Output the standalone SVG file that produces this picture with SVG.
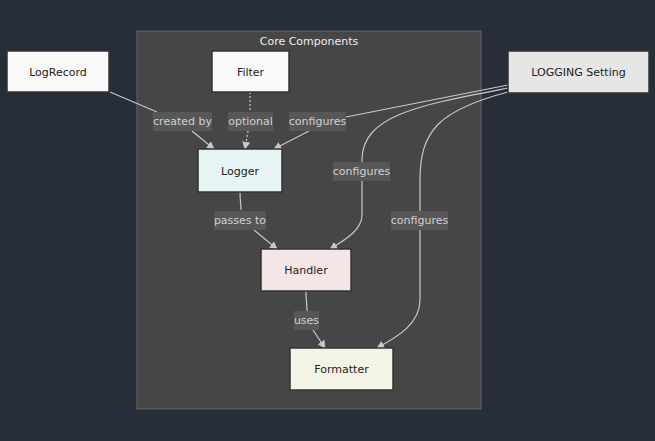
<svg xmlns="http://www.w3.org/2000/svg" width="655" height="441" viewBox="0 0 655 441">
<style>
.node rect{stroke:#333;stroke-width:1.5}
.nt{font-family:"DejaVu Sans",Verdana,sans-serif;font-size:11px;fill:#222;text-anchor:middle;dominant-baseline:central}
.edge{fill:none;stroke:#c8c8c8;stroke-width:1.2}
.lb rect{fill:#575757}
.lb text{font-family:"DejaVu Sans",Verdana,sans-serif;font-size:11px;fill:#d0d0d0;text-anchor:middle;dominant-baseline:central}
.title{font-family:"DejaVu Sans",Verdana,sans-serif;font-size:11px;fill:#eee;text-anchor:middle;dominant-baseline:central}
</style>
<defs>
<marker id="ah" viewBox="0 0 10 10" refX="9" refY="5" markerWidth="8" markerHeight="8" markerUnits="userSpaceOnUse" orient="auto">
<path d="M0,0 L10,5 L0,10 z" fill="#c8c8c8"/>
</marker>
</defs>
<rect x="0" y="0" width="655" height="441" fill="#282d3a"/>
<g id="cluster-core">
<rect x="137" y="31" width="344" height="378" fill="#464646" stroke="#666" stroke-width="1"/>
<text class="title" x="309" y="41">Core Components</text>
</g>
<g id="edges">
<path class="edge" marker-end="url(#ah)" d="M110,92 L157,112 M192,131 L214,149"/>
<path class="edge" marker-end="url(#ah)" stroke-dasharray="2,2" d="M250,92 L250,112 M248,131 L245,149"/>
<path class="edge" marker-end="url(#ah)" d="M508,85 L346,117 M309,131 L274,149"/>
<path class="edge" marker-end="url(#ah)" d="M508,88 C420,105 362,115 362,160 L362,162 M362,180 L362,215 C362,230 345,240 330,249"/>
<path class="edge" marker-end="url(#ah)" d="M508,92 C440,110 420,130 420,180 L420,211 M420,230 L420,300 C420,325 395,338 377,348"/>
<path class="edge" marker-end="url(#ah)" d="M240,192 C240,200 241,205 241,210 M254,230 L277,249"/>
<path class="edge" marker-end="url(#ah)" d="M306,291 C306,300 307,305 307,311 M313,330 L325,348"/>
</g>
<g id="labels">
<g class="lb"><rect x="153" y="112" width="59" height="19"/><text x="182.5" y="121.5">created by</text></g>
<g class="lb"><rect x="228" y="112" width="45" height="19"/><text x="250.5" y="121.5">optional</text></g>
<g class="lb"><rect x="289" y="112" width="57" height="19"/><text x="317.5" y="121.5">configures</text></g>
<g class="lb"><rect x="333" y="162" width="57" height="19"/><text x="361.5" y="171.5">configures</text></g>
<g class="lb"><rect x="214" y="211" width="52" height="19"/><text x="240" y="220.5">passes to</text></g>
<g class="lb"><rect x="391" y="211" width="57" height="19"/><text x="419.5" y="220.5">configures</text></g>
<g class="lb"><rect x="294" y="311" width="25" height="19"/><text x="306.5" y="320.5">uses</text></g>
</g>
<g id="node-LogRecord" class="node"><rect x="7" y="51" width="102" height="41" fill="#f9f9f9"/><text class="nt" x="58" y="72">LogRecord</text></g>
<g id="node-Filter" class="node"><rect x="212" y="51" width="77" height="41" fill="#f9f9f9"/><text class="nt" x="250.5" y="72">Filter</text></g>
<g id="node-Logger" class="node"><rect x="198" y="149" width="84" height="43" fill="#e6f4f4"/><text class="nt" x="240" y="171">Logger</text></g>
<g id="node-LOGGING" class="node"><rect x="508" y="51" width="141" height="42" fill="#e6e6e6"/><text class="nt" x="578.5" y="72">LOGGING Setting</text></g>
<g id="node-Handler" class="node"><rect x="261" y="249" width="90" height="42" fill="#f4e6e6"/><text class="nt" x="306" y="270">Handler</text></g>
<g id="node-Formatter" class="node"><rect x="290" y="348" width="103" height="42" fill="#f4f4e6"/><text class="nt" x="341.5" y="369.5">Formatter</text></g>
</svg>
